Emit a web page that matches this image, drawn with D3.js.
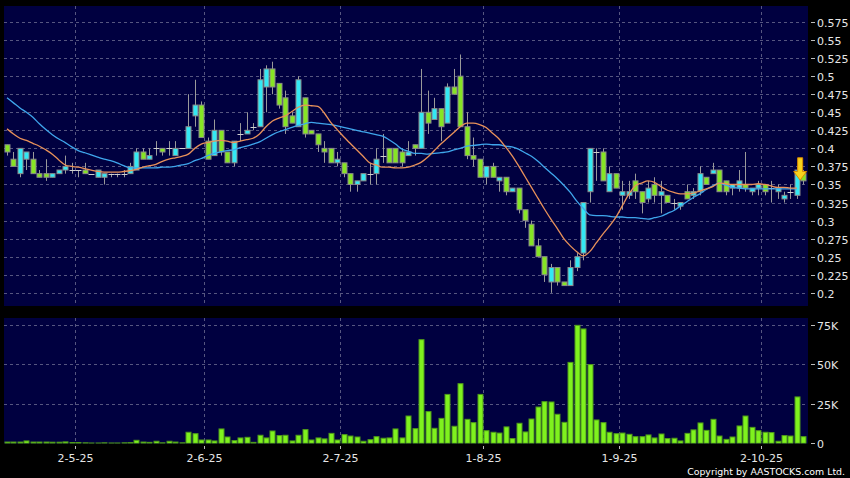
<!DOCTYPE html>
<html><head><meta charset="utf-8">
<script src="https://cdn.jsdelivr.net/npm/d3@7"></script>
<style>body{margin:0;background:#000;}svg{display:block;}</style>
</head><body>
<svg id="chart" width="850" height="478"></svg>
<script>
// ---- trading days (HK, 2025) ----
const aprDays = [14,15,16,17,22,23,24,25,28,29,30];
const mayDays = [2,6,7,8,9,12,13,14,15,16,19,20,21,22,23,26,27,28,29,30];
const junDays = [2,3,4,5,6,9,10,11,12,13,16,17,18,19,20,23,24,25,26,27,30];
const julDays = [2,3,4,7,8,9,10,11,14,15,16,17,18,21,22,23,24,25,28,29,30,31];
const augDays = [1,4,5,6,7,8,11,12,13,14,15,18,19,20,21,22,25,26,27,28,29];
const sepDays = [1,2,3,4,5,8,9,10,11,12,15,16,17,18,19,22,23,24,25,26,29,30];
const octDays = [2,3,6,8,9,10,13];
const dates = [].concat(
  aprDays.map(d => d + "-4-25"), mayDays.map(d => d + "-5-25"), junDays.map(d => d + "-6-25"),
  julDays.map(d => d + "-7-25"), augDays.map(d => d + "-8-25"), sepDays.map(d => d + "-9-25"),
  octDays.map(d => d + "-10-25"));

const tickLabels = ["2-5-25","2-6-25","2-7-25","1-8-25","1-9-25","2-10-25"];
const priceTicks = [0.2,0.225,0.25,0.275,0.3,0.325,0.35,0.375,0.4,0.425,0.45,0.475,0.5,0.525,0.55,0.575];
const volTicks = [0, 25000, 50000, 75000];
const volTickLabels = ["0","25K","50K","75K"];

// ---- OHLC ----
const open = [.405,.385,.365,.385,.385,.365,.365,.36,.365,.37,.37,.37,.37,.365,.36,.36,.365,.365,.365,.365,
.37,.395,.385,.40,.40,.40,.39,.40,.40,.445,.46,.41,.39,.425,.395,.38,.42,.42,.43,.43,
.485,.51,.49,.47,.445,.43,.47,.425,.42,.40,.40,.38,.38,.365,.35,.355,.365,.365,.39,.40,
.40,.395,.39,.405,.40,.45,.44,.455,.435,.485,.50,.43,.39,.385,.36,.375,.355,.36,.34,.345,
.315,.295,.265,.25,.215,.235,.215,.21,.235,.255,.34,.395,.395,.34,.365,.335,.335,.355,.34,.33,
.35,.335,.335,.325,.32,.34,.335,.34,.36,.365,.37,.355,.345,.345,.35,.34,.345,.35,.345,.34,
.33,.34,.335,.365];
const high = [.405,.395,.40,.395,.395,.37,.385,.365,.37,.39,.38,.37,.38,.365,.37,.365,.365,.365,.37,.38,
.40,.40,.40,.41,.40,.41,.41,.40,.475,.495,.465,.415,.44,.425,.395,.41,.435,.45,.435,.51,
.515,.52,.49,.48,.45,.50,.47,.425,.42,.41,.40,.395,.38,.365,.355,.365,.38,.40,.42,.40,
.40,.40,.41,.405,.51,.48,.47,.455,.49,.51,.53,.45,.415,.385,.375,.38,.36,.36,.345,.345,
.315,.30,.275,.25,.24,.235,.215,.245,.255,.325,.40,.40,.40,.375,.365,.355,.355,.365,.34,.355,
.36,.355,.335,.33,.325,.35,.345,.375,.36,.38,.37,.355,.35,.37,.395,.345,.355,.35,.355,.35,
.34,.35,.375,.37];
const low = [.39,.375,.36,.37,.365,.36,.355,.36,.365,.365,.365,.36,.365,.365,.36,.35,.36,.36,.36,.365,
.37,.385,.385,.39,.39,.39,.39,.40,.40,.43,.415,.385,.39,.39,.38,.375,.41,.42,.425,.43,
.45,.475,.455,.42,.435,.43,.415,.42,.395,.38,.38,.375,.36,.34,.34,.355,.35,.35,.38,.38,
.38,.375,.39,.39,.40,.42,.44,.41,.435,.475,.43,.385,.375,.36,.35,.36,.34,.335,.34,.31,
.29,.265,.25,.215,.20,.21,.21,.21,.23,.245,.325,.355,.355,.34,.345,.315,.33,.33,.31,.325,
.325,.31,.325,.315,.315,.33,.33,.335,.35,.365,.34,.335,.335,.34,.34,.335,.335,.335,.325,.33,
.325,.33,.33,.35];
const close = [.395,.375,.40,.395,.365,.36,.36,.365,.37,.375,.37,.37,.365,.365,.37,.365,.365,.365,.365,.375,
.395,.385,.39,.40,.395,.40,.40,.40,.43,.46,.415,.385,.425,.395,.38,.41,.42,.425,.43,.495,
.51,.485,.46,.43,.435,.495,.42,.42,.405,.395,.38,.385,.365,.35,.355,.365,.365,.385,.39,.38,
.38,.38,.395,.40,.45,.435,.455,.43,.485,.475,.43,.39,.385,.36,.375,.36,.36,.34,.345,.315,
.30,.265,.25,.225,.235,.215,.21,.235,.25,.325,.40,.395,.355,.365,.345,.34,.34,.34,.325,.345,
.335,.34,.325,.325,.325,.33,.34,.365,.35,.37,.34,.34,.35,.355,.345,.345,.35,.34,.345,.345,
.335,.34,.37,.355];

// ---- volume ----
const volume = [800,800,800,1500,800,800,800,700,700,900,500,500,300,200,200,300,200,200,300,400,
1900,800,600,1300,300,1300,800,300,7000,6100,2100,2100,1500,9100,4000,1700,3400,3800,600,5100,
3400,7800,4900,5100,1500,5100,8700,2100,3400,2800,6300,2100,5500,4600,4000,1300,2300,4200,3200,3400,
9100,3400,17300,9300,65700,20100,9500,15800,31000,10800,37800,15200,13100,31000,8000,7000,6500,10400,3000,12700,
7200,15400,23000,26400,26200,18400,13300,51300,74800,72500,49900,14800,13100,7000,6100,6500,5700,4200,4200,5300,
3400,5900,3000,3200,1500,6300,8500,12900,8200,15200,4600,2500,4000,11000,17300,10100,8000,7000,6800,1300,
4900,4600,29400,4200];

// ---- moving averages ----
const maShort = [.427,.420,.414,.411,.407,.403,.398,.392,.384,.377,.375,.374,.372,.370,.368,.367,.367,.367,.368,.369,
.371,.374,.376,.378,.382,.385,.387,.389,.392,.400,.406,.408,.410,.411,.410,.408,.410,.412,.414,.420,
.430,.438,.442,.445,.451,.457,.460,.459,.458,.449,.436,.426,.416,.407,.398,.389,.380,.377,.374,.374,
.373,.373,.374,.377,.381,.388,.397,.406,.414,.422,.430,.435,.435,.433,.429,.421,.413,.402,.390,.376,
.361,.346,.331,.316,.302,.289,.275,.265,.257,.251,.257,.269,.281,.292,.304,.320,.336,.348,.352,.355,
.353,.347,.342,.339,.337,.337,.338,.341,.344,.347,.352,.351,.350,.350,.350,.350,.351,.350,.348,.346,
.346,.345,.345,null];
const maLong = [.470,.463,.456,.450,.443,.434,.426,.419,.413,.408,.402,.397,.394,.391,.388,.385,.383,.380,.376,.373,
.373,.373,.373,.373,.374,.374,.375,.377,.379,.383,.386,.390,.393,.395,.397,.398,.401,.403,.406,.409,
.414,.419,.423,.426,.429,.432,.434,.436,.435,.434,.433,.431,.429,.427,.425,.423,.421,.419,.417,.412,
.406,.399,.396,.393,.393,.392,.393,.394,.395,.398,.400,.403,.404,.405,.406,.405,.405,.403,.402,.399,
.394,.389,.382,.374,.366,.358,.349,.339,.327,.317,.308,.307,.307,.306,.305,.305,.304,.304,.303,.302,
.304,.306,.310,.314,.320,.326,.332,.337,.343,.348,.352,.349,.346,.345,.344,.344,.344,.344,.344,.344,
.344,.344,.344,null];

// ---- drawing ----
const svg = d3.select("#chart");
svg.append("rect").attr("width", 850).attr("height", 478).attr("fill", "#000");

const P = {left: 4, right: 808, top: 6, bottom: 306};
const V = {left: 4, right: 808, top: 318, bottom: 443.5};

const x = d3.scaleLinear().domain([0, dates.length - 1]).range([7, 803.4]);
const y = d3.scaleLinear().domain([0.2, 0.575]).range([292.8, 22]);
const yv = d3.scaleLinear().domain([0, 75000]).range([443.3, 325]);

const navy = "#000040";
const gridCol = "#565680";
svg.append("rect").attr("x", P.left).attr("y", P.top).attr("width", P.right - P.left).attr("height", P.bottom - P.top).attr("fill", navy);
svg.append("rect").attr("x", V.left).attr("y", V.top).attr("width", V.right - V.left).attr("height", V.bottom - V.top).attr("fill", navy);

const defs = svg.append("defs");
defs.append("clipPath").attr("id", "cp").append("rect").attr("x", P.left).attr("y", P.top).attr("width", P.right - P.left).attr("height", P.bottom - P.top);
defs.append("clipPath").attr("id", "cv").append("rect").attr("x", V.left).attr("y", V.top).attr("width", V.right - V.left).attr("height", V.bottom - V.top);

const tickIdx = tickLabels.map(t => dates.indexOf(t));

// gridlines
const g = svg.append("g").attr("stroke", gridCol).attr("stroke-dasharray", "3,3").attr("stroke-width", 1);
priceTicks.forEach(p => g.append("line").attr("x1", P.left).attr("x2", P.right)
  .attr("y1", Math.round(y(p)) + 0.5).attr("y2", Math.round(y(p)) + 0.5));
volTicks.slice(1).forEach(v => g.append("line").attr("x1", V.left).attr("x2", V.right)
  .attr("y1", Math.round(yv(v)) + 0.5).attr("y2", Math.round(yv(v)) + 0.5));
tickIdx.forEach(i => {
  const xx = Math.round(x(i - 0.5)) + 0.5;
  g.append("line").attr("x1", xx).attr("x2", xx).attr("y1", P.top).attr("y2", P.bottom);
  g.append("line").attr("x1", xx).attr("x2", xx).attr("y1", V.top).attr("y2", V.bottom);
});

// candles
const up = "#33e8f4", down = "#86e524", doji = "#d0d0d0";
const cg = svg.append("g").attr("clip-path", "url(#cp)");
const bw = 5;
dates.forEach((d, i) => {
  const cx = Math.round(x(i)) + 0.5;
  cg.append("line").attr("x1", cx).attr("x2", cx).attr("y1", y(high[i])).attr("y2", y(low[i]))
    .attr("stroke", "#9a9a9a").attr("stroke-width", 1);
  const o = open[i], c = close[i];
  if (o === c) {
    cg.append("line").attr("x1", cx - 3).attr("x2", cx + 3).attr("y1", Math.round(y(o)) + 0.5).attr("y2", Math.round(y(o)) + 0.5)
      .attr("stroke", doji).attr("stroke-width", 1);
  } else {
    const top = y(Math.max(o, c)), bot = y(Math.min(o, c));
    cg.append("rect").attr("x", cx - bw / 2).attr("y", top).attr("width", bw).attr("height", Math.max(1, bot - top))
      .attr("fill", c > o ? up : down).attr("stroke", "#8a8a8a").attr("stroke-width", 1);
  }
});

// moving averages
const lineGen = d3.line().defined(d => d !== null).x((d, i) => x(i)).y(d => y(d)).curve(d3.curveMonotoneX);
const mg = svg.append("g").attr("clip-path", "url(#cp)").attr("fill", "none");
mg.append("path").attr("d", lineGen(maLong)).attr("stroke", "#3fa6ec").attr("stroke-width", 1.3);
mg.append("path").attr("d", lineGen(maShort)).attr("stroke", "#e8915a").attr("stroke-width", 1.3);

// last-price marker arrow
const last = dates.length - 1;
const ax = x(last - 0.5), aTop = y(0.387), aMid = y(0.368), aTip = y(0.356);
svg.append("path")
  .attr("d", `M${ax - 2.5},${aTop} L${ax + 2.5},${aTop} L${ax + 2.5},${aMid} L${ax + 6.5},${aMid} L${ax},${aTip} L${ax - 6.5},${aMid} L${ax - 2.5},${aMid} Z`)
  .attr("fill", "#f8d21c").attr("stroke", "#d98a00").attr("stroke-width", 1);

// volume bars
const vg = svg.append("g").attr("clip-path", "url(#cv)");
volume.forEach((v, i) => {
  const cx = Math.round(x(i)) + 0.5;
  const top = yv(v);
  vg.append("rect").attr("x", cx - bw / 2).attr("y", top).attr("width", bw).attr("height", Math.max(0, yv(0) - top))
    .attr("fill", "#7ff21e").attr("stroke", "#4f9a1a").attr("stroke-width", 1);
});

// right axes
const font = "DejaVu Sans, Verdana, sans-serif";
const ax1 = svg.append("g");
priceTicks.forEach(p => {
  const yy = Math.round(y(p)) + 0.5;
  ax1.append("line").attr("x1", 811).attr("x2", 815).attr("y1", yy).attr("y2", yy).attr("stroke", "#bbbbbb");
  ax1.append("text").attr("x", 817).attr("y", yy + 4).text(String(p))
    .attr("fill", "#e6e6e6").attr("font-family", font).attr("font-size", 11);
});
volTicks.forEach((v, k) => {
  const yy = Math.round(yv(v)) + 0.5;
  ax1.append("line").attr("x1", 811).attr("x2", 815).attr("y1", yy).attr("y2", yy).attr("stroke", "#bbbbbb");
  ax1.append("text").attr("x", 817).attr("y", yy + 4).text(volTickLabels[k])
    .attr("fill", "#e6e6e6").attr("font-family", font).attr("font-size", 11);
});

// bottom date axis
tickIdx.forEach((i, k) => {
  const xx = Math.round(x(i - 0.5)) + 0.5;
  svg.append("line").attr("x1", xx).attr("x2", xx).attr("y1", 446).attr("y2", 449).attr("stroke", "#bbbbbb");
  svg.append("text").attr("x", xx).attr("y", 462).attr("text-anchor", "middle").text(tickLabels[k])
    .attr("fill", "#e6e6e6").attr("font-family", font).attr("font-size", 11);
});

svg.append("text").attr("x", 845).attr("y", 475).attr("text-anchor", "end")
  .text("Copyright by AASTOCKS.com Ltd.")
  .attr("fill", "#ffffff").attr("font-family", font).attr("font-size", 9.4);
</script>
</body></html>
